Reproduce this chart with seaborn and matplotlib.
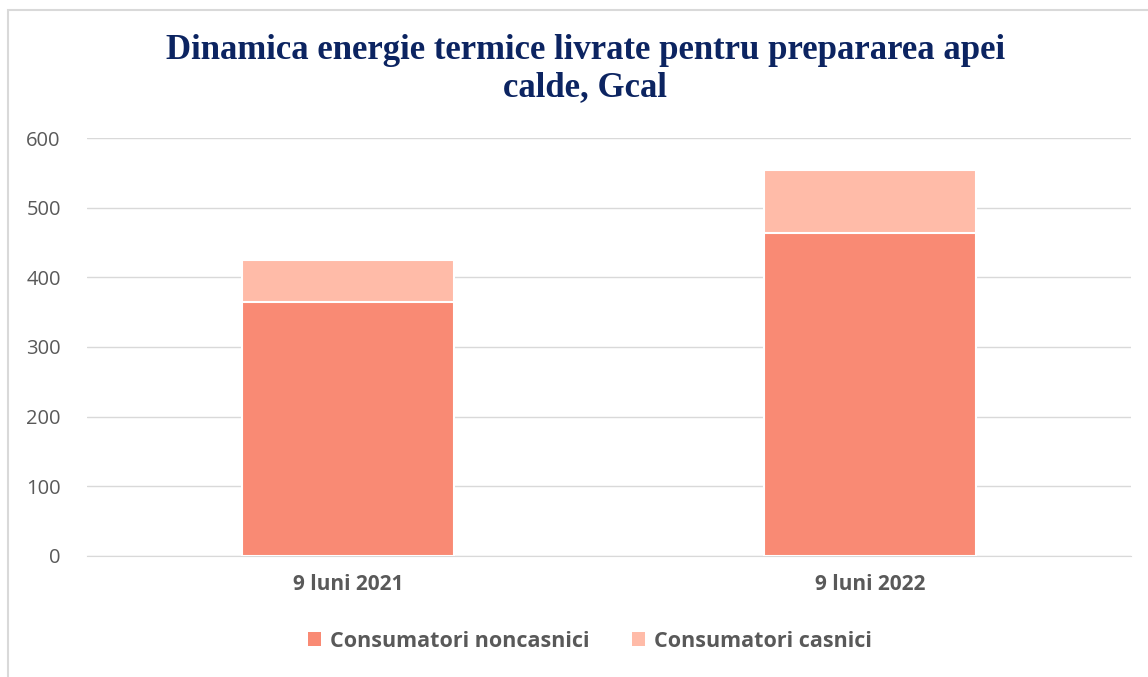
import pandas as pd
import seaborn as sns
import matplotlib.pyplot as plt
from matplotlib.patches import Patch, Rectangle
import matplotlib.patheffects as pe

periods = ['9 luni 2021', '9 luni 2022']
noncasnici = [364, 464]
casnici = [61, 90]
series_names = ['Consumatori noncasnici', 'Consumatori casnici']
colors = ['#F98A74', '#FFBBA8']

df = pd.DataFrame({'Perioada': periods, 'noncasnici': noncasnici, 'casnici': casnici})
df['total'] = df['noncasnici'] + df['casnici']

sns.set_style('white')
plt.rcParams['font.family'] = ['Open Sans', 'DejaVu Sans']

fig, ax = plt.subplots(figsize=(11.48, 6.77), dpi=100)
fig.subplots_adjust(left=0.076, right=0.985, top=0.796, bottom=0.179)

shadow = [pe.SimplePatchShadow(offset=(0, 0), shadow_rgbFace='#999999', alpha=0.35), pe.Normal()]

# stacked: total first (casnici on top), then noncasnici at the base
sns.barplot(data=df, x='Perioada', y='total', color=colors[1], saturation=1,
            width=0.405, edgecolor='white', linewidth=1.5, ax=ax, zorder=3)
sns.barplot(data=df, x='Perioada', y='noncasnici', color=colors[0], saturation=1,
            width=0.405, edgecolor='white', linewidth=1.5, ax=ax, zorder=4)
for p in ax.patches:
    p.set_path_effects(shadow)

ax.set_xlim(-0.5, 1.5)
ax.set_ylim(0, 600)
ax.set_yticks(range(0, 601, 100))
ax.yaxis.grid(True, color='#D9D9D9', linewidth=1)
ax.set_axisbelow(True)
for s in ['top', 'right', 'left']:
    ax.spines[s].set_visible(False)
ax.spines['bottom'].set_color('#D9D9D9')
ax.tick_params(axis='y', length=0, labelsize=14.5, labelcolor='#595959', pad=19)
ax.tick_params(axis='x', length=0, labelsize=15, labelcolor='#595959', pad=13)
for lbl in ax.get_xticklabels():
    lbl.set_fontweight('bold')
ax.set_xlabel('')
ax.set_ylabel('')

fig.suptitle('Dinamica energie termice livrate pentru prepararea apei\ncalde, Gcal',
             x=0.51, y=0.898, va='center', fontsize=25, fontweight='bold', color='#0C2461',
             family=['Liberation Serif', 'DejaVu Serif'], linespacing=1.2)

handles = [Patch(facecolor=c, edgecolor='none') for c in colors]
leg = fig.legend(handles, series_names, loc='center', bbox_to_anchor=(0.514, 0.053),
                 ncol=2, frameon=False, handlelength=0.6, handleheight=0.6,
                 handletextpad=0.4, columnspacing=2.0, prop={'size': 15.5, 'weight': 'bold'})
for t in leg.get_texts():
    t.set_color('#595959')

# light frame: only the top and left edges show in the reference
fig.patches.append(Rectangle((0.007, -0.1), 1.2, 1.085, transform=fig.transFigure,
                             fill=False, edgecolor='#D9D9D9', linewidth=1.5))

fig.savefig('out.png', dpi=100)
